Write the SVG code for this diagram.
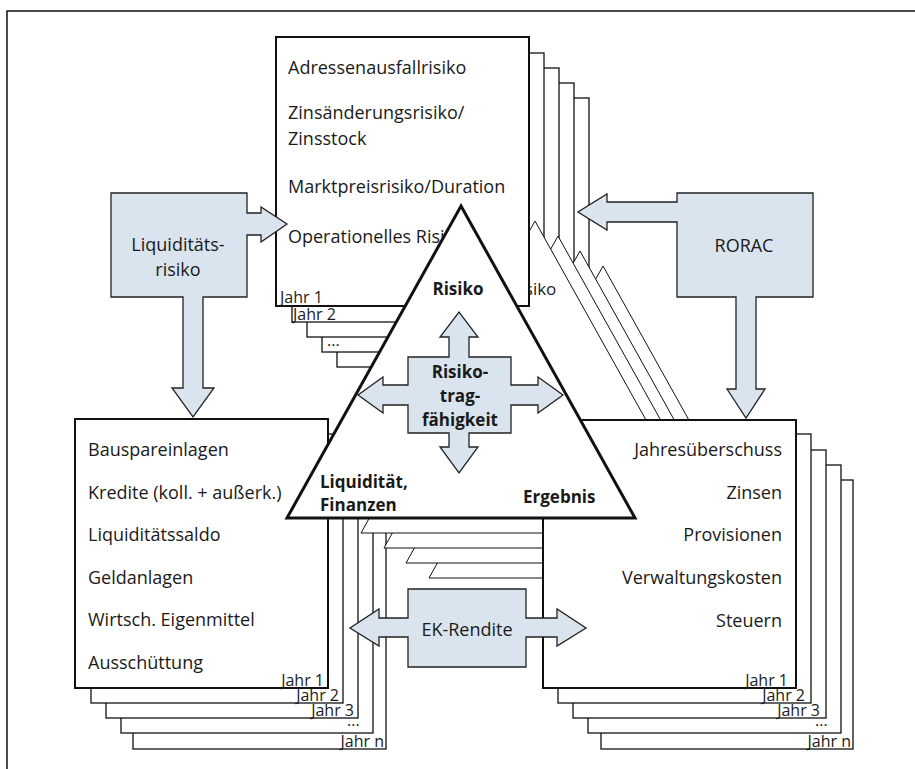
<svg xmlns="http://www.w3.org/2000/svg" width="915" height="769" viewBox="0 0 915 769">
<style>
.bx{fill:#fff;stroke:#111;stroke-width:1.3}
.bx0{fill:#fff;stroke:#111;stroke-width:2}
.tri{fill:#fff;stroke:#111;stroke-width:1}
.tri0{fill:#fff;stroke:#111;stroke-width:3;stroke-linejoin:miter}
.blue{fill:#d9e4ee;stroke:#222;stroke-width:1.3;stroke-linejoin:miter}
text{font-family:"Open Sans","Liberation Sans",sans-serif;fill:#1a1a1a}
.t{font-size:18px}
.yr{font-size:16px}
.b{font-size:17px;font-weight:bold}
.r{text-anchor:end}
.c{text-anchor:middle}
</style>
<rect width="915" height="769" fill="#fff"/>
<path d="M7,769 V11 H915" fill="none" stroke="#111" stroke-width="1.5"/>

<!-- Layer 4 (Jahr n) -->
<g id="layer4">
<rect class="bx" x="337" y="98" width="252" height="269"/>
<rect class="bx" x="133" y="479" width="253" height="270"/>
<rect class="bx" x="601" y="480" width="252" height="269"/>
<text class="yr r" x="384" y="747">Jahr n</text>
<text class="yr r" x="851" y="747">Jahr n</text>
<polygon class="tri" points="603,266 777,578 429,578"/>
</g>
<!-- Layer 3 -->
<g id="layer3">
<rect class="bx" x="322" y="83" width="252" height="269"/>
<rect class="bx" x="121" y="464" width="252" height="269"/>
<rect class="bx" x="588" y="465" width="253" height="268"/>
<text class="yr" x="327" y="346">...</text>
<text class="yr" x="347" y="726">...</text>
<text class="yr" x="815" y="726">...</text>
<polygon class="tri" points="580,251 754,563 406,563"/>
</g>
<!-- Layer 2 -->
<g id="layer2">
<rect class="bx" x="307" y="68" width="252" height="269"/>
<rect class="bx" x="106" y="449" width="252" height="269"/>
<rect class="bx" x="573" y="450" width="253" height="268"/>
<text class="yr r" x="354" y="716">Jahr 3</text>
<text class="yr r" x="820" y="716">Jahr 3</text>
<polygon class="tri" points="558,236 732,548 384,548"/>
</g>
<!-- Layer 1 -->
<g id="layer1">
<rect class="bx" x="292" y="53" width="252" height="269"/>
<rect class="bx" x="91" y="434" width="252" height="269"/>
<rect class="bx" x="558" y="434" width="253" height="269"/>
<text class="yr" x="293" y="320">Jahr 2</text>
<text class="yr r" x="339" y="701">Jahr 2</text>
<text class="yr r" x="805" y="701">Jahr 2</text>
<polygon class="tri" points="535,221 709,533 361,533"/>
<text class="t" x="510" y="295" style="font-size:17px">Risiko</text>
</g>

<!-- Layer 0 (Jahr 1) -->
<g id="risiko-box">
<rect class="bx0" x="276" y="37" width="253" height="269"/>
<text class="t" x="288" y="74">Adressenausfallrisiko</text>
<text class="t" x="288" y="119">Zinsänderungsrisiko/</text>
<text class="t" x="288" y="145">Zinsstock</text>
<text class="t" x="288" y="193">Marktpreisrisiko/Duration</text>
<text class="t" x="288" y="243">Operationelles Risiko</text>
<text class="yr" x="280" y="303">Jahr 1</text>
</g>
<g id="liquiditaet-box">
<rect class="bx0" x="75" y="419" width="253" height="269"/>
<text class="t" x="88" y="456">Bauspareinlagen</text>
<text class="t" x="88" y="499">Kredite (koll. + außerk.)</text>
<text class="t" x="88" y="541">Liquiditätssaldo</text>
<text class="t" x="88" y="584">Geldanlagen</text>
<text class="t" x="88" y="626">Wirtsch. Eigenmittel</text>
<text class="t" x="88" y="669">Ausschüttung</text>
<text class="yr r" x="324" y="686">Jahr 1</text>
</g>
<g id="ergebnis-box">
<rect class="bx0" x="543" y="420" width="253" height="268"/>
<text class="t r" x="782" y="456">Jahresüberschuss</text>
<text class="t r" x="782" y="499">Zinsen</text>
<text class="t r" x="782" y="541">Provisionen</text>
<text class="t r" x="782" y="584">Verwaltungskosten</text>
<text class="t r" x="782" y="627">Steuern</text>
<text class="yr r" x="788" y="686">Jahr 1</text>
</g>
<g id="dreieck">
<polygon class="tri0" points="461,206 635,518 287,518"/>
<text class="b c" x="458" y="295">Risiko</text>
<text class="b" x="320" y="488">Liquidität,</text>
<text class="b" x="320" y="511">Finanzen</text>
<text class="b" x="523" y="503">Ergebnis</text>
</g>

<g id="connectors">
<path class="blue" d="M111,193 H247 V213 H261 V207 L287,224 L261,242 V235 H247 V297 H203 V388 H214 L193,417 L172,388 H183 V297 H111 Z"/>
<path class="blue" d="M677,193 H813 V297 H756 V389 H765 L746,418 L727,389 H736 V297 H677 V222 H607 V230 L578,212 L607,194 V202 H677 Z"/>
<path class="blue" d="M408,357 H449 V337 H440 L459,312 L478,337 H469 V357 H511 V385 H538 V377 L563,395 L538,413 V405 H511 V433 H469 V447 H478 L459,473 L440,447 H449 V433 H408 V405 H383 V413 L358,395 L383,377 V385 H408 Z"/>
<path class="blue" d="M408,589 H526 V618 H557 V609 L586,628 L557,646 V637 H526 V667 H408 V637 H379 V646 L350,628 L379,609 V618 H408 Z"/>
</g>
<g id="labels">
<text class="t c" x="178" y="251">Liquiditäts-</text>
<text class="t c" x="178" y="276">risiko</text>
<text class="t c" x="744" y="252">RORAC</text>
<text class="b c" x="460" y="378">Risiko-</text>
<text class="b c" x="460" y="402">trag-</text>
<text class="b c" x="460" y="426">fähigkeit</text>
<text class="t c" x="467" y="636">EK-Rendite</text>
</g>
</svg>
